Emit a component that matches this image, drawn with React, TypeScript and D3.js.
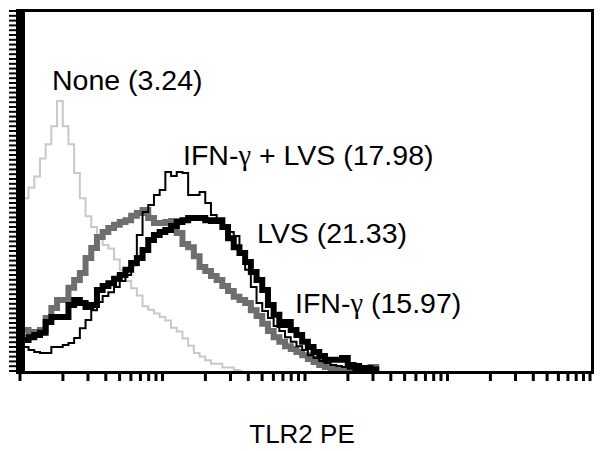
import React from "react";
import * as d3 from "d3";

// channel grid: log decades step (flow cytometry channels, evenly spaced in log)
const DECADE_STEP = 0.04;

const noneCounts = [46,48,51,54,59,63,68,75,68,63,55,48,43,40,37,35,34,31,28,25,23,21,18,17,16,15,14,12,11,9,7,5,4,3,2,2,1,1,0.3,0];
const ifnLvsCounts = [7.2,6.7,5.8,5.3,5.0,5.0,6.7,6.7,7.2,7.8,9.2,11.9,14.2,16.9,19.2,20.8,21.9,23.3,25.0,26.7,29.4,37.8,44.2,46.1,48.9,50.3,55.3,54.2,55.3,55.0,48.9,48.9,49.7,46.7,43.3,41.4,40.3,38.6,37.5,33.1,28.1,23.3,18.9,16.7,14.7,12.5,11.1,9.4,8.1,6.9,5.8,4.4,3.6,2.8,2.2,1.7,1.4,1.1,0.6,0.3,0];
const lvsCounts = [8.6,8.6,9.4,10.0,10.6,13.6,15.0,15.0,15.0,18.3,19.7,18.9,17.8,18.3,22.5,23.6,24.4,25.6,26.7,28.1,30.0,31.4,33.6,36.4,37.8,38.6,39.2,40.3,41.4,41.9,42.5,42.5,42.5,41.9,41.7,41.9,40.0,36.9,34.4,32.8,30.3,27.5,25.3,22.5,18.3,15.6,12.8,13.6,11.4,10.0,8.1,6.7,5.3,4.2,3.1,3.1,3.1,3.6,1.7,1.4,0.6,0.8,0.4,0];
const ifnCounts = [11.4,11.4,10.6,10.8,11.4,14.7,17.5,19.7,19.7,23.1,25.3,27.2,31.4,34.2,37.2,38.6,39.7,40.6,41.4,41.9,43.1,43.9,44.7,42.5,41.1,41.1,41.4,41.7,38.3,35.3,34.4,31.9,28.9,27.8,26.4,25.3,23.6,22.2,20.6,19.7,18.9,16.9,15.3,13.1,11.1,9.4,8.1,6.9,6.1,5.3,4.4,3.3,2.5,1.7,1.1,0.6,0.3,0.3,0.3,0.3,0.6,0.8,1.1,0];

const labels = [
  { pre: "None (3.24)", greek: "", post: "", x: 52, y: 90 },
  { pre: "IFN-", greek: "γ", post: " + LVS (17.98)", x: 183, y: 165 },
  { pre: "LVS (21.33)", greek: "", post: "", x: 257, y: 243 },
  { pre: "IFN-", greek: "γ", post: " (15.97)", x: 295, y: 313 },
];
const axisTitle = "TLR2 PE";

const W = 604, H = 451;
const X0 = 20, X1 = 590, YB = 371, YT = 11;

export default function App() {
  const x = d3.scaleLog().domain([1, 1e4]).range([X0, X1]);
  const y = d3.scaleLinear().domain([0, 100]).range([YB, YT]);
  const chan = (i: number) => Math.pow(10, i * DECADE_STEP);
  const line = d3
    .line<number>()
    .x((_, i) => x(chan(i)))
    .y((d) => y(d))
    .curve(d3.curveStep);

  const xTicks: number[] = [];
  for (let k = 0; k < 4; k++) for (let m = 1; m < 10; m++) xTicks.push(m * Math.pow(10, k));
  xTicks.push(1e4);
  const yTicks = d3.range(0, 100.0001, 100 / 75);

  const font = "'Liberation Sans', Arial, sans-serif";
  return (
    <svg width={W} height={H} style={{ position: "absolute", left: 0, top: 0, background: "#fff" }}>
      <rect width={W} height={H} fill="#fff" />
      <path d={line(noneCounts) || ""} fill="none" stroke="#c8c8c8" strokeWidth={2} />
      <path d={line(ifnCounts) || ""} fill="none" stroke="#6e6e6e" strokeWidth={6} />
      <path d={line(lvsCounts) || ""} fill="none" stroke="#000" strokeWidth={6} />
      <path d={line(ifnLvsCounts) || ""} fill="none" stroke="#000" strokeWidth={2} />
      {/* frame */}
      <rect x={16} y={YT - 2} width={9} height={YB - YT + 5} fill="#000" />
      <line x1={16} x2={594} y1={10.5} y2={10.5} stroke="#000" strokeWidth={3} />
      <line x1={592.5} x2={592.5} y1={9} y2={374} stroke="#000" strokeWidth={3} />
      <line x1={16} x2={594} y1={372.5} y2={372.5} stroke="#000" strokeWidth={3} />
      {xTicks.map((t, i) => (
        <line key={"xt" + i} x1={x(t)} x2={x(t)} y1={374} y2={381} stroke="#000" strokeWidth={3} />
      ))}
      {yTicks.map((t, i) => (
        <line key={"yt" + i} x1={9} x2={16} y1={y(t)} y2={y(t)} stroke="#000" strokeWidth={2} />
      ))}
      {labels.map((l, i) => (
        <text key={"l" + i} x={l.x} y={l.y} fontFamily={font} fontSize={28.5} fill="#000">
          {l.pre}
          {l.greek && <tspan fontFamily="'Liberation Serif', serif">{l.greek}</tspan>}
          {l.post}
        </text>
      ))}
      <text x={302} y={443} textAnchor="middle" fontFamily={font} fontSize={26} fill="#000">
        {axisTitle}
      </text>
    </svg>
  );
}
